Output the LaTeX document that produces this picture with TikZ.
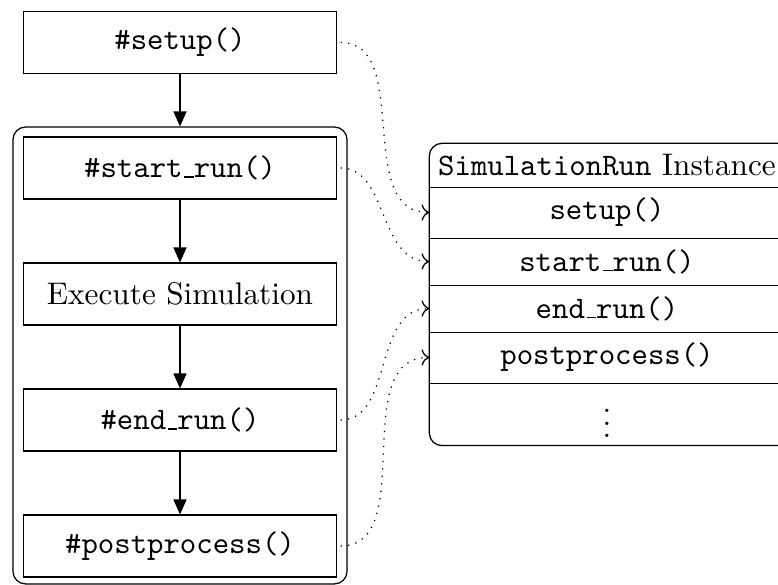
\documentclass[tikz,border=0pt]{standalone}
\usetikzlibrary{arrows.meta,fit}
% typewriter underscore drawn as a short baseline rule
\newcommand\uscore{\leavevmode\kern.06em\vbox{\hrule width.3em}}
\begin{document}
\begin{tikzpicture}[x=0.32pt,y=-0.32pt,
  stepbox/.style={draw, minimum width=100pt, minimum height=19.8pt, inner sep=0pt, font=\ttfamily},
  flow/.style={-{Triangle[length=4.8pt,width=4.2pt]}},
  link/.style={dotted, ->, shorten <=1.2pt},
  row/.style={minimum width=113.3pt, inner sep=0pt},
]
\useasboundingbox (0,0) rectangle (778,585);

% lifecycle steps
\node[stepbox] (setup) at (180,42.5) {\#setup()};
\node[draw, rounded corners=4pt, minimum width=106.9pt, minimum height=146.2pt, inner sep=0pt] (loop) at (180,355.5) {};
\node[stepbox] (start) at (180,168) {\#start\uscore run()};
\node[stepbox, font=\rmfamily] (exec) at (180,294) {Execute Simulation};
\node[stepbox] (end) at (180,420) {\#end\uscore run()};
\node[stepbox] (post) at (180,546) {\#postprocess()};

\draw[flow] (setup.south) -- (setup.south |- loop.north);
\draw[flow] (start) -- (exec);
\draw[flow] (exec) -- (end);
\draw[flow] (end) -- (post);

% instance with its methods
\node[row, minimum height=13.76pt] (title) at (607,165.5) {\texttt{SimulationRun} Instance};
\node[row, minimum height=16.32pt, font=\ttfamily] (isetup) at (607,212.5) {setup()};
\node[row, minimum height=15.04pt, font=\ttfamily] (istart) at (607,261.5) {start\uscore run()};
\node[row, minimum height=15.04pt, font=\ttfamily] (iend) at (607,308.5) {end\uscore run()};
\node[row, minimum height=16.32pt, font=\ttfamily] (ipost) at (607,357.5) {postprocess()};
\node[row, minimum height=19.84pt] (idots) at (607,414) {$\vdots$};
\coordinate (iedge) at (810,445);
\node[draw, rounded corners=4pt, inner sep=0pt, fit=(title)(idots)(iedge)] (inst) {};
\foreach \r in {title,isetup,istart,iend,ipost}
  \draw (\r.south west) -- (\r.south -| iedge);

% calls into the instance
\draw[link] (setup.east) to[out=0,in=180] (isetup.west);
\draw[link] (start.east) to[out=0,in=180] (istart.west);
\draw[link] (end.east) to[out=0,in=180] (iend.west);
\draw[link] (post.east) to[out=0,in=180] (ipost.west);
\end{tikzpicture}
\end{document}
